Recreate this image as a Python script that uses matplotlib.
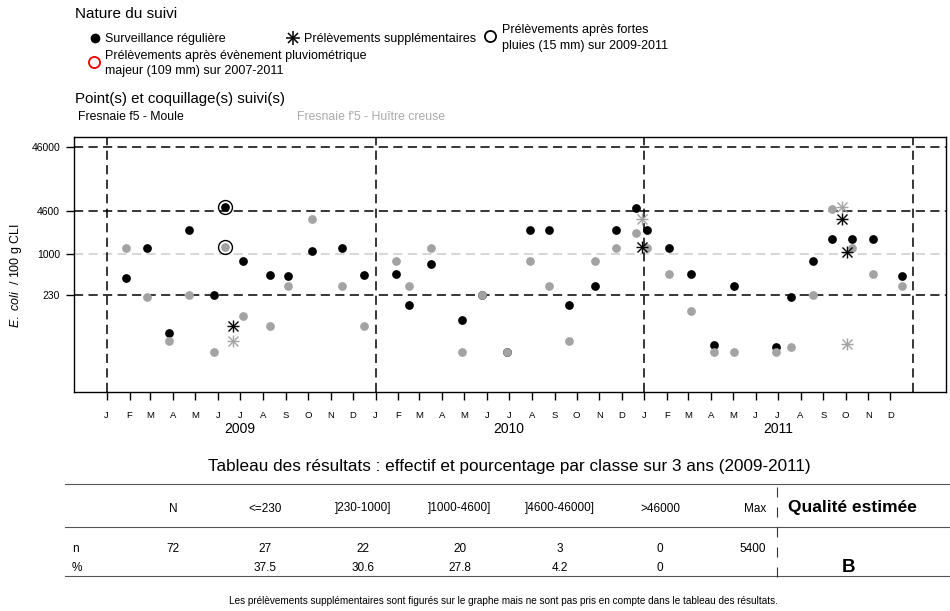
import matplotlib
matplotlib.use("Agg")
import matplotlib.pyplot as plt
import pandas as pd
from datetime import datetime, timedelta

plt.rcParams['font.family'] = ['Liberation Sans', 'DejaVu Sans']
plt.rcParams['mathtext.fontset'] = 'custom'
plt.rcParams['mathtext.it'] = 'Liberation Sans:italic'
plt.rcParams['mathtext.rm'] = 'Liberation Sans'

# --- data --------------------------------------------------------------
moule_dates = ['2009-01-27', '2009-02-25', '2009-03-26', '2009-04-23', '2009-05-27', '2009-06-11',
               '2009-07-05', '2009-08-11', '2009-09-04', '2009-10-07', '2009-11-16', '2009-12-16',
               '2010-01-29', '2010-02-16', '2010-03-17', '2010-04-28', '2010-05-26', '2010-06-28',
               '2010-07-30', '2010-08-25', '2010-09-20', '2010-10-26', '2010-11-24', '2010-12-21',
               '2011-01-04', '2011-02-03', '2011-03-05', '2011-04-05', '2011-05-02', '2011-06-29',
               '2011-07-19', '2011-08-18', '2011-09-13', '2011-10-10', '2011-11-07', '2011-12-17']
moule_vals = [415, 1250, 59, 2350, 230, 5400,
              770, 470, 450, 1100, 1250, 470,
              480, 160, 700, 92, 230, 29,
              2350, 2350, 160, 320, 2350, 5200,
              2350, 1250, 480, 38, 320, 35,
              215, 770, 1700, 1700, 1700, 455]

huitre_dates = moule_dates
huitre_vals = [1250, 215, 44, 230, 29, 1260,
               107, 75, 320, 3450, 320, 75,
               770, 320, 1250, 29, 230, 29,
               770, 320, 44, 770, 1250, 2100,
               1250, 480, 128, 29, 29, 29,
               35, 230, 5000, 1250, 480, 320]

# supplementary samples (asterisks)
supp_dates = ['2009-06-21', '2010-12-29', '2011-09-26', '2011-10-03']
supp_moule = [75, 1300, 3450, 1080]
supp_huitre = [44, 3450, 5400, 39]

# samples after heavy rain (open circles)
rain_dates = ['2009-06-11', '2009-06-11']
rain_vals = [5400, 1260]

thresholds = [230, 1000, 4600, 46000]
threshold_labels = ['230', '1000', '4600', '46000']
years = [2009, 2010, 2011]
month_letters = list('JFMAMJJASOND')

tab_headers = ['N', '<=230', ']230-1000]', ']1000-4600]', ']4600-46000]', '>46000']
tab_n = ['72', '27', '22', '20', '3', '0']
tab_pct = ['', '37.5', '30.6', '27.8', '4.2', '0']
tab_max = '5400'
quality = 'B'

BLACK = '#000000'
GREY = '#a3a3a3'


def to_dt(lst):
    return [datetime.strptime(d, '%Y-%m-%d') for d in lst]


fig = plt.figure(figsize=(9.5, 6.11), dpi=100)
W, H = 950, 611
ax = fig.add_axes([74 / W, 1 - 391.7 / H, (946 - 74) / W, (391.7 - 137.3) / H])

# reference lines
for t in thresholds:
    col = '#cccccc' if t == 1000 else BLACK
    ax.axhline(t, color=col, lw=1.1, ls=(0, (6, 3.5)), zorder=1)
for y in years + [years[-1] + 1]:
    ax.axvline(datetime(y, 1, 1), color=BLACK, lw=1.1, ls=(0, (6, 3.5)), zorder=1)

ax.plot(to_dt(moule_dates), moule_vals, 'o', color=BLACK, ms=6.3, mew=0, zorder=3)
ax.plot(to_dt(huitre_dates), huitre_vals, 'o', color=GREY, ms=6.3, mew=0, zorder=4)
for vals, col in [(supp_moule, BLACK), (supp_huitre, GREY)]:
    ax.plot(to_dt(supp_dates), vals, '+', color=col, ms=8.5, mew=1.0, zorder=5)
    ax.plot(to_dt(supp_dates), vals, 'x', color=col, ms=6.5, mew=1.0, zorder=5)
ax.plot(to_dt(rain_dates), rain_vals, 'o', mfc='none', mec=BLACK, ms=10, mew=1.0, zorder=6)

ax.set_yscale('log')
ax.set_ylim(7.04, 65900)
ax.set_xlim(datetime(2009, 1, 1) - timedelta(days=44.4), datetime(2012, 1, 1) + timedelta(days=44.4))
ax.set_yticks(thresholds)
ax.set_yticklabels(threshold_labels, fontsize=7.5)
ax.yaxis.set_minor_locator(matplotlib.ticker.NullLocator())
ax.tick_params(axis='y', length=6, width=1, pad=4)

month_ticks = pd.date_range('2009-01-01', '2011-12-01', freq='MS')
ax.set_xticks(month_ticks)
ax.set_xticklabels([month_letters[d.month - 1] for d in month_ticks], fontsize=6.8)
ax.tick_params(axis='x', length=6, width=1, pad=8)
ax.xaxis.set_minor_locator(matplotlib.ticker.NullLocator())
for y in years:
    ax.text(datetime(y, 7, 1), -0.145, str(y), transform=ax.get_xaxis_transform(),
            ha='center', va='center', fontsize=10)

ax.set_ylabel(r'$\mathit{E.\ coli}$  / 100 g CLI', fontsize=9)
ax.yaxis.set_label_coords(-0.057, 0.455)
for s in ax.spines.values():
    s.set_linewidth(1)

# overlay in pixel coordinates for header, legend and table
ov = fig.add_axes([0, 0, 1, 1])
ov.set_xlim(0, W)
ov.set_ylim(H, 0)
ov.axis('off')

ov.text(75, 13.5, 'Nature du suivi', fontsize=11, va='center')
ov.plot([95], [38.3], 'o', color=BLACK, ms=7, mew=0)
ov.text(105, 39, 'Surveillance régulière', fontsize=9, va='center')
ov.plot([293.3], [37.7], '+', color=BLACK, ms=10, mew=1.1)
ov.plot([293.3], [37.7], 'x', color=BLACK, ms=7.5, mew=1.1)
ov.text(304, 39, 'Prélèvements supplémentaires', fontsize=9, va='center')
ov.plot([489.5], [36], 'o', mfc='none', mec=BLACK, ms=8, mew=1.3)
ov.text(501.5, 30, 'Prélèvements après fortes', fontsize=9, va='center')
ov.text(501.5, 46.5, 'pluies (15 mm) sur 2009-2011', fontsize=9, va='center')
ov.plot([94.3], [61.7], 'o', mfc='none', mec='#ee0000', ms=8, mew=1.3)
ov.text(105, 55.5, 'Prélèvements après évènement pluviométrique', fontsize=9, va='center')
ov.text(105, 71, 'majeur (109 mm) sur 2007-2011', fontsize=9, va='center')
ov.text(75, 99, 'Point(s) et coquillage(s) suivi(s)', fontsize=10.8, va='center')
ov.text(78, 116.7, 'Fresnaie f5 - Moule', fontsize=8.8, va='center', color=BLACK)
ov.text(296.7, 116.7, "Fresnaie f'5 - Huître creuse", fontsize=8.8, va='center', color='#aaaaaa')

# results table
ov.text(509, 467, 'Tableau des résultats : effectif et pourcentage par classe sur 3 ans (2009-2011)',
        fontsize=12.3, ha='center', va='center')
for yl in [484.3, 527, 576]:
    ov.plot([65, 950], [yl, yl], color='#555555', lw=0.8)
ov.plot([777.3, 777.3], [486.7, 586], color='#333333', lw=0.8, ls=(0, (9, 9)))
col_x = [173.3, 265, 363.3, 460, 560, 660]
for cx, hd, nv, pv in zip(col_x, tab_headers, tab_n, tab_pct):
    ov.text(cx, 508.5, hd, fontsize=8.5, ha='center', va='center')
    ov.text(cx, 549, nv, fontsize=8.5, ha='center', va='center')
    if pv:
        ov.text(cx, 568, pv, fontsize=8.5, ha='center', va='center')
ov.text(766, 508.5, 'Max', fontsize=8.5, ha='right', va='center')
ov.text(766, 549, tab_max, fontsize=8.5, ha='right', va='center')
ov.text(72, 549, 'n', fontsize=8.5, va='center')
ov.text(72, 568, '%', fontsize=8.5, va='center')
ov.text(852.7, 507.5, 'Qualité estimée', fontsize=12.5, fontweight='bold', ha='center', va='center')
ov.text(848.3, 567, quality, fontsize=13.5, fontweight='bold', ha='center', va='center')
ov.text(503.5, 601, 'Les prélèvements supplémentaires sont figurés sur le graphe mais ne sont pas pris '
        'en compte dans le tableau des résultats.', fontsize=7.2, ha='center', va='center')

fig.savefig('out.png', dpi=100)
